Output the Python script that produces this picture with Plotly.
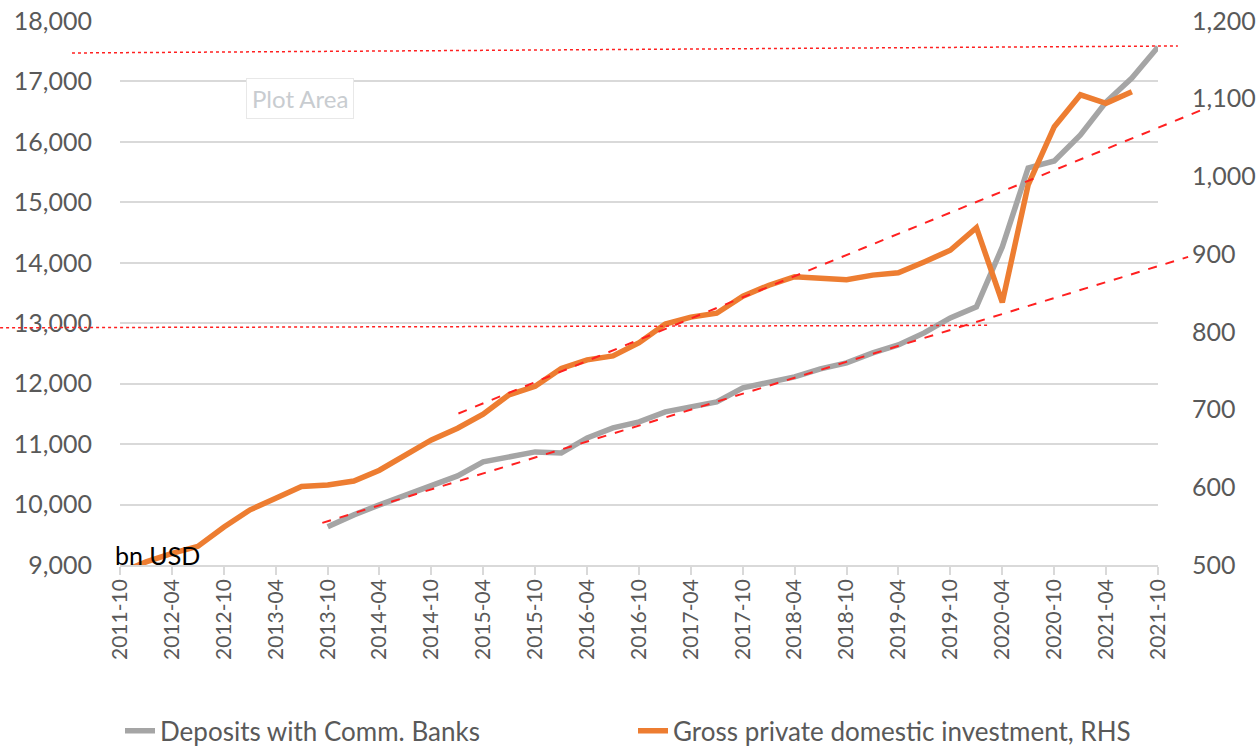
import pandas as pd
import plotly.graph_objects as go

# quarterly observations
invest_dates = pd.date_range("2011-10-01", "2021-07-01", freq="QS")
invest_vals = [490, 504, 515, 524, 549, 571, 586, 601, 603, 608, 622, 642, 661, 676,
               694, 719, 730, 753, 764, 769, 786, 810, 819, 824, 846, 860, 871,
               869, 867, 873, 876, 890, 905, 934, 838, 989, 1064, 1105, 1094, 1109]

deposit_dates = pd.date_range("2013-10-01", "2021-10-01", freq="QS")
deposit_vals = [9631, 9829, 9995, 10160, 10309, 10474, 10706, 10789, 10871, 10855,
                11103, 11268, 11367, 11533, 11616, 11698, 11930, 12013, 12112, 12244,
                12343, 12509, 12641, 12840, 13088, 13270, 14262, 15569, 15684, 16114,
                16660, 17057, 17570]

# hand-drawn red guide lines (start, end)
low_trend_dates = ["2013-09-12", "2022-01-15"]
low_trend_vals = [9697, 14097]          # left axis
up_trend_dates = ["2015-01-04", "2022-03-07"]
up_trend_vals = [695, 1086]             # right axis
top_dot_dates = ["2011-04-15", "2021-12-10"]
top_dot_vals = [17471, 17587]           # left axis
mid_dot_dates = ["2010-08-05", "2020-02-10"]
mid_dot_vals = [12925, 12965]           # left axis

X0 = pd.Timestamp("2011-10-01")
X1 = pd.Timestamp("2021-10-01")

GREY = "#A5A5A5"
ORANGE = "#ED7D31"
TICK = "#595959"
GRID = "#D9D9D9"
FONT = "Lato"


def xfrac(d):
    return (pd.Timestamp(d) - X0) / (X1 - X0)


def guide(dates, vals, yref, dash, width):
    return dict(type="line", xref="paper", yref=yref,
                x0=xfrac(dates[0]), y0=vals[0], x1=xfrac(dates[1]), y1=vals[1],
                line=dict(color="#FF2020", width=width, dash=dash), layer="above")


fig = go.Figure()

fig.add_trace(go.Scatter(
    x=deposit_dates, y=deposit_vals, name="Deposits with Comm. Banks",
    mode="lines", line=dict(color=GREY, width=5.5),
))
fig.add_trace(go.Scatter(
    x=invest_dates, y=invest_vals, name="Gross private domestic investment, RHS",
    mode="lines", line=dict(color=ORANGE, width=5.5), yaxis="y2",
))

fig.update_layout(
    width=1260, height=749,
    margin=dict(l=120, r=102, t=21, b=184, autoexpand=False),
    paper_bgcolor="white", plot_bgcolor="white",
    font=dict(family=FONT, color=TICK),
    xaxis=dict(
        type="date", range=[X0, X1], tick0="2011-10-01", dtick="M6",
        tickformat="%Y-%m", tickangle=-90, tickfont=dict(size=21, color=TICK),
        ticks="outside", ticklen=8, tickcolor=GRID, tickwidth=1.5,
        showgrid=False, showline=True, linecolor=GRID, linewidth=1.5,
        zeroline=False, ticklabelstandoff=-4, ticklabeloverflow="allow",
    ),
    yaxis=dict(
        range=[9000, 18000], dtick=1000, tickformat=",",
        tickfont=dict(size=25, color=TICK), gridcolor=GRID, gridwidth=1.5,
        zeroline=False, showline=False, ticklabelstandoff=27,
        ticklabeloverflow="allow",
    ),
    yaxis2=dict(
        range=[500, 1200], dtick=100, tickformat=",", overlaying="y", side="right",
        tickfont=dict(size=25, color=TICK), showgrid=False, zeroline=False,
        showline=False, ticklabelstandoff=33, ticklabeloverflow="allow",
    ),
    legend=dict(
        orientation="h", x=0, xanchor="left", y=-0.305, yanchor="middle",
        font=dict(size=26, color=TICK), entrywidth=468, entrywidthmode="pixels",
        bgcolor="rgba(0,0,0,0)",
    ),
    shapes=[
        guide(top_dot_dates, top_dot_vals, "y", "dot", 1.5),
        guide(mid_dot_dates, mid_dot_vals, "y", "dot", 1.5),
        guide(low_trend_dates, low_trend_vals, "y", "dash", 2),
        guide(up_trend_dates, up_trend_vals, "y2", "dash", 2),
    ],
    annotations=[
        dict(text="bn USD", xref="paper", yref="paper", x=-0.007, y=-0.012,
             xanchor="left", yanchor="bottom", showarrow=False,
             font=dict(size=25, color="black", family=FONT)),
        dict(text="Plot Area", xref="paper", yref="paper", x=0.1734, y=0.858,
             xanchor="center", yanchor="middle", showarrow=False,
             font=dict(size=24, color="#C8CCD0", family=FONT),
             bgcolor="white", bordercolor="#E8E8E8", borderwidth=1, borderpad=5),
    ],
)

# drop the default body margin so the figure sits flush in the window
fig.write_html("out.html", config={"displayModeBar": False},
               post_script="document.body.style.margin = '0px';")
